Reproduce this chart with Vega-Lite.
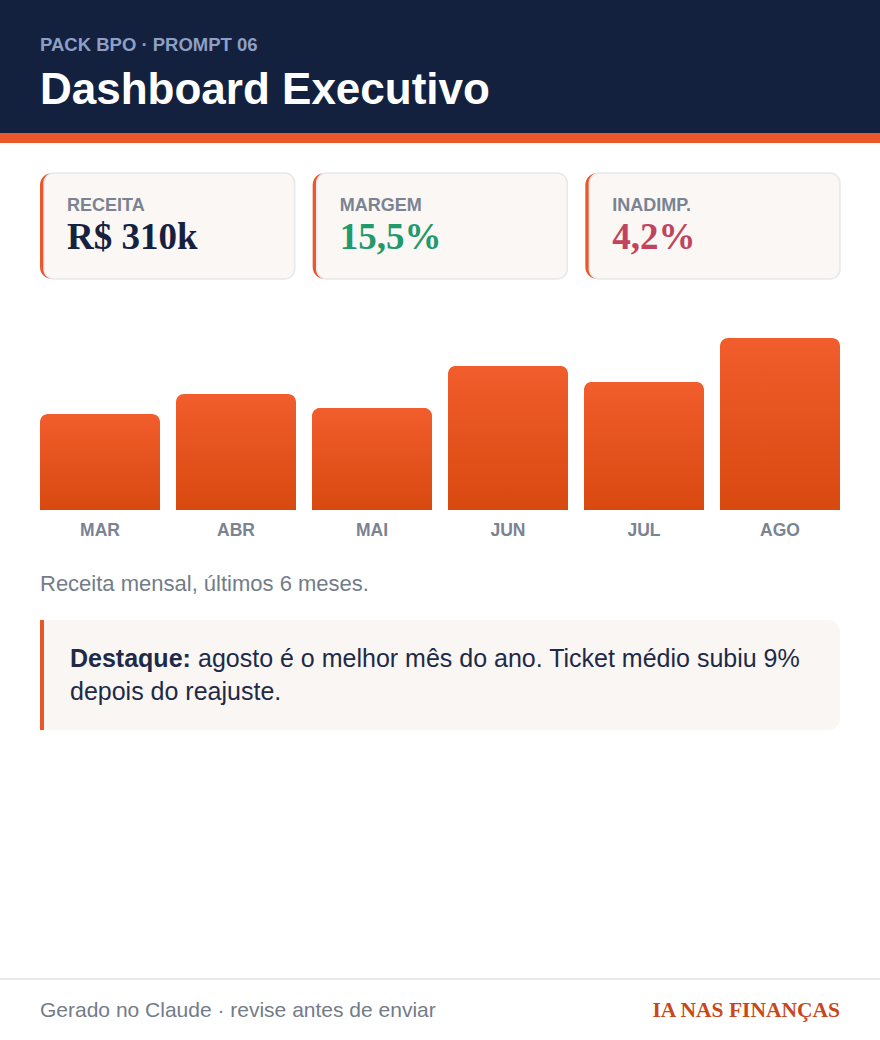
{
  "$schema": "https://vega.github.io/schema/vega-lite/v6.json",
  "padding": 0,
  "background": "#ffffff",
  "spacing": 0,
  "bounds": "flush",
  "center": true,
  "config": {"view": {"stroke": null}, "font": "Liberation Sans"},
  "vconcat": [
    {
      "width": 880,
      "height": 133,
      "view": {"fill": "#13213f", "stroke": null},
      "title": {
        "text": "PACK BPO · PROMPT 06",
        "subtitle": "Dashboard Executivo",
        "orient": "top",
        "anchor": "start",
        "frame": "group",
        "dx": 40,
        "offset": -113,
        "font": "Liberation Sans",
        "fontSize": 18.5,
        "fontWeight": "bold",
        "color": "#8e9fc4",
        "subtitleFont": "Liberation Sans",
        "subtitleFontSize": 44,
        "subtitleFontWeight": "bold",
        "subtitleColor": "#ffffff",
        "subtitlePadding": 15
      },
      "data": {"values": [{"secao": "cabecalho"}]},
      "mark": {"type": "text", "text": ""}
    },
    {
      "width": 880,
      "height": 10,
      "view": {"fill": "#e9572a", "stroke": null},
      "data": {"values": [{"secao": "faixa"}]},
      "mark": {"type": "text", "text": ""}
    },
    {
      "width": 880,
      "height": 30,
      "data": {"values": [{"secao": "espaco"}]},
      "mark": {"type": "text", "text": ""}
    },
    {
      "width": 800,
      "height": 106,
      "data": {
        "values": [
          {"indicador": "RECEITA", "valor": "R$ 310k"},
          {"indicador": "MARGEM", "valor": "15,5%"},
          {"indicador": "INADIMP.", "valor": "4,2%"}
        ]
      },
      "layer": [
        {
          "mark": {"type": "bar", "color": "#e9572a", "cornerRadius": 12},
          "encoding": {
            "x": {"field": "indicador", "type": "nominal", "sort": null, "scale": {"paddingInner": 0.066, "paddingOuter": 0}, "axis": null}
          }
        },
        {
          "mark": {"type": "bar", "fill": "#faf7f4", "stroke": "#e6e8eb", "strokeWidth": 1.5, "cornerRadius": 10, "width": {"band": 0.984}, "xOffset": 2},
          "encoding": {
            "x": {"field": "indicador", "type": "nominal", "sort": null, "axis": null}
          }
        },
        {
          "mark": {"type": "text", "align": "left", "baseline": "alphabetic", "dx": 27, "dy": -15, "font": "Liberation Sans", "fontSize": 18, "fontWeight": "bold", "color": "#7a8392"},
          "encoding": {
            "x": {"field": "indicador", "type": "nominal", "sort": null, "bandPosition": 0, "axis": null},
            "text": {"field": "indicador"}
          }
        },
        {
          "mark": {"type": "text", "align": "left", "baseline": "alphabetic", "dx": 27, "dy": 23, "font": "Liberation Serif", "fontSize": 37, "fontWeight": "bold"},
          "encoding": {
            "x": {"field": "indicador", "type": "nominal", "sort": null, "bandPosition": 0, "axis": null},
            "text": {"field": "valor"},
            "color": {
              "field": "indicador",
              "type": "nominal",
              "scale": {"domain": ["RECEITA", "MARGEM", "INADIMP."], "range": ["#15223f", "#1f9a6c", "#c1445f"]},
              "legend": null
            }
          }
        }
      ]
    },
    {
      "width": 880,
      "height": 59,
      "data": {"values": [{"secao": "espaco"}]},
      "mark": {"type": "text", "text": ""}
    },
    {
      "width": 800,
      "height": 172,
      "data": {
        "values": [
          {"mes": "MAR", "receita": 173},
          {"mes": "ABR", "receita": 209},
          {"mes": "MAI", "receita": 184},
          {"mes": "JUN", "receita": 260},
          {"mes": "JUL", "receita": 231},
          {"mes": "AGO", "receita": 310}
        ]
      },
      "title": {
        "text": "Receita mensal, últimos 6 meses.",
        "orient": "bottom",
        "anchor": "start",
        "frame": "group",
        "offset": 35,
        "font": "Liberation Sans",
        "fontSize": 22,
        "fontWeight": "normal",
        "color": "#737c89"
      },
      "mark": {
        "type": "bar",
        "cornerRadiusEnd": 8,
        "fill": {
          "gradient": "linear",
          "x1": 0, "y1": 0, "x2": 0, "y2": 1,
          "stops": [{"offset": 0, "color": "#f15d2c"}, {"offset": 1, "color": "#d8490f"}]
        }
      },
      "encoding": {
        "x": {
          "field": "mes",
          "type": "nominal",
          "sort": null,
          "scale": {"paddingInner": 0.1176, "paddingOuter": 0},
          "axis": {"title": null, "domain": false, "ticks": false, "labelAngle": 0, "labelFont": "Liberation Sans", "labelFontSize": 17.5, "labelFontWeight": "bold", "labelColor": "#7a8392", "labelPadding": 11}
        },
        "y": {"field": "receita", "type": "quantitative", "scale": {"domain": [0, 310], "nice": false}, "axis": null}
      }
    },
    {
      "width": 880,
      "height": 110,
      "data": {"values": [{"secao": "espaco"}]},
      "mark": {"type": "text", "text": ""}
    },
    {
      "width": 800,
      "height": 110,
      "data": {
        "values": [
          {"rotulo": "Destaque:", "linha1": "agosto é o melhor mês do ano. Ticket médio subiu 9%", "linha2": "depois do reajuste."}
        ]
      },
      "encoding": {
        "x": {"datum": 0, "type": "quantitative", "scale": {"domain": [0, 1]}, "axis": null}
      },
      "layer": [
        {
          "mark": {"type": "rect", "fill": "#faf6f3", "cornerRadiusTopRight": 12, "cornerRadiusBottomRight": 12},
          "encoding": {"x2": {"datum": 1}}
        },
        {
          "mark": {"type": "rule", "color": "#e8572a", "strokeWidth": 4, "xOffset": 2},
          "encoding": {}
        },
        {
          "mark": {"type": "text", "align": "left", "baseline": "alphabetic", "dx": 30, "dy": -8, "font": "Liberation Sans", "fontSize": 25, "fontWeight": "bold", "color": "#1e2a47"},
          "encoding": {"text": {"field": "rotulo"}}
        },
        {
          "mark": {"type": "text", "align": "left", "baseline": "alphabetic", "dx": 158, "dy": -8, "font": "Liberation Sans", "fontSize": 25, "color": "#1e2a47"},
          "encoding": {"text": {"field": "linha1"}}
        },
        {
          "mark": {"type": "text", "align": "left", "baseline": "alphabetic", "dx": 30, "dy": 25, "font": "Liberation Sans", "fontSize": 25, "color": "#1e2a47"},
          "encoding": {"text": {"field": "linha2"}}
        }
      ]
    },
    {
      "width": 880,
      "height": 248,
      "data": {"values": [{"secao": "espaco"}]},
      "mark": {"type": "text", "text": ""}
    },
    {
      "width": 880,
      "height": 2,
      "view": {"fill": "#e8eaed", "stroke": null},
      "data": {"values": [{"secao": "divisor"}]},
      "mark": {"type": "text", "text": ""}
    },
    {
      "width": 800,
      "height": 60,
      "data": {
        "values": [
          {"assinatura": "Gerado no Claude · revise antes de enviar", "marca": "IA NAS FINANÇAS"}
        ]
      },
      "layer": [
        {
          "mark": {"type": "text", "align": "left", "baseline": "alphabetic", "dy": 7, "font": "Liberation Sans", "fontSize": 21, "color": "#737c89"},
          "encoding": {
            "x": {"datum": 0, "type": "quantitative", "scale": {"domain": [0, 1]}, "axis": null},
            "text": {"field": "assinatura"}
          }
        },
        {
          "mark": {"type": "text", "align": "right", "baseline": "alphabetic", "dy": 7, "font": "Liberation Serif", "fontSize": 21.5, "fontWeight": "bold", "color": "#c8471b"},
          "encoding": {
            "x": {"datum": 1, "type": "quantitative", "scale": {"domain": [0, 1]}, "axis": null},
            "text": {"field": "marca"}
          }
        }
      ]
    }
  ]
}
